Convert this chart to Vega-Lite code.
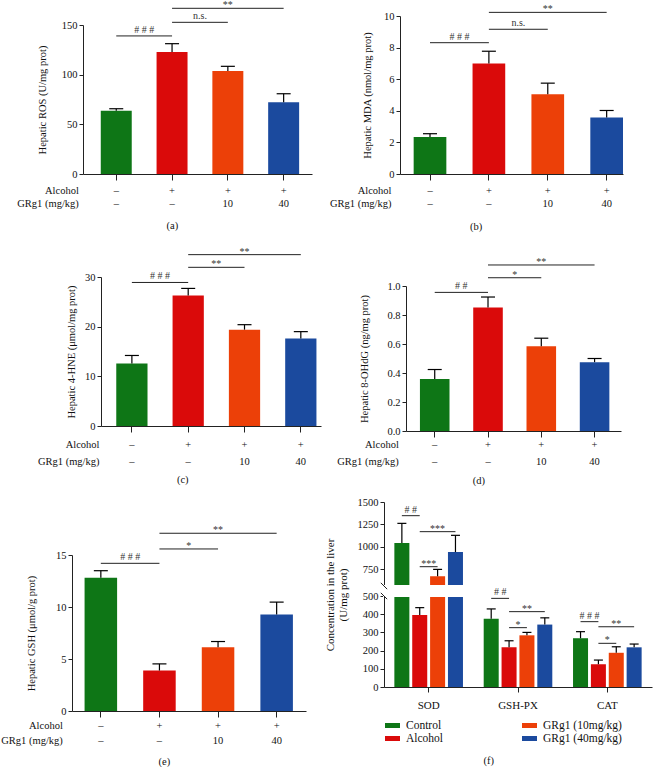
{
  "$schema": "https://vega.github.io/schema/vega-lite/v6.json",
  "padding": 0,
  "datasets": {
    "bars": [
      {"panel": "a", "group": "Control", "value": 63.7, "upper": 65.7},
      {"panel": "a", "group": "Alcohol", "value": 122.8, "upper": 131.2},
      {"panel": "a", "group": "GRg1 (10mg/kg)", "value": 103.7, "upper": 108.4},
      {"panel": "a", "group": "GRg1 (40mg/kg)", "value": 72.2, "upper": 80.8},
      {"panel": "b", "group": "Control", "value": 2.34, "upper": 2.55},
      {"panel": "b", "group": "Alcohol", "value": 6.99, "upper": 7.77},
      {"panel": "b", "group": "GRg1 (10mg/kg)", "value": 5.05, "upper": 5.75},
      {"panel": "b", "group": "GRg1 (40mg/kg)", "value": 3.58, "upper": 4.02},
      {"panel": "c", "group": "Control", "value": 12.6, "upper": 14.2},
      {"panel": "c", "group": "Alcohol", "value": 26.3, "upper": 27.7},
      {"panel": "c", "group": "GRg1 (10mg/kg)", "value": 19.4, "upper": 20.4},
      {"panel": "c", "group": "GRg1 (40mg/kg)", "value": 17.6, "upper": 19.0},
      {"panel": "d", "group": "Control", "value": 0.358, "upper": 0.424},
      {"panel": "d", "group": "Alcohol", "value": 0.851, "upper": 0.924},
      {"panel": "d", "group": "GRg1 (10mg/kg)", "value": 0.585, "upper": 0.64},
      {"panel": "d", "group": "GRg1 (40mg/kg)", "value": 0.475, "upper": 0.5},
      {"panel": "e", "group": "Control", "value": 12.82, "upper": 13.49},
      {"panel": "e", "group": "Alcohol", "value": 3.89, "upper": 4.53},
      {"panel": "e", "group": "GRg1 (10mg/kg)", "value": 6.14, "upper": 6.68},
      {"panel": "e", "group": "GRg1 (40mg/kg)", "value": 9.28, "upper": 10.47}
    ],
    "sig": [
      {"panel": "a", "from": "Control", "to": "Alcohol", "level": 139, "label": "# # #", "span": 1},
      {"panel": "a", "from": "Alcohol", "to": "GRg1 (10mg/kg)", "level": 152.7, "label": "n.s.", "span": 1},
      {"panel": "a", "from": "Alcohol", "to": "GRg1 (40mg/kg)", "level": 166.8, "label": "**", "span": 2},
      {"panel": "b", "from": "Control", "to": "Alcohol", "level": 8.31, "label": "# # #", "span": 1},
      {"panel": "b", "from": "Alcohol", "to": "GRg1 (10mg/kg)", "level": 9.16, "label": "n.s.", "span": 1},
      {"panel": "b", "from": "Alcohol", "to": "GRg1 (40mg/kg)", "level": 10.23, "label": "**", "span": 2},
      {"panel": "c", "from": "Control", "to": "Alcohol", "level": 28.9, "label": "# # #", "span": 1},
      {"panel": "c", "from": "Alcohol", "to": "GRg1 (10mg/kg)", "level": 31.95, "label": "**", "span": 1},
      {"panel": "c", "from": "Alcohol", "to": "GRg1 (40mg/kg)", "level": 34.5, "label": "**", "span": 2},
      {"panel": "d", "from": "Control", "to": "Alcohol", "level": 0.956, "label": "# #", "span": 1},
      {"panel": "d", "from": "Alcohol", "to": "GRg1 (10mg/kg)", "level": 1.057, "label": "*", "span": 1},
      {"panel": "d", "from": "Alcohol", "to": "GRg1 (40mg/kg)", "level": 1.145, "label": "**", "span": 2},
      {"panel": "e", "from": "Control", "to": "Alcohol", "level": 14.2, "label": "# # #", "span": 1},
      {"panel": "e", "from": "Alcohol", "to": "GRg1 (10mg/kg)", "level": 15.58, "label": "*", "span": 1},
      {"panel": "e", "from": "Alcohol", "to": "GRg1 (40mg/kg)", "level": 17.09, "label": "**", "span": 2}
    ],
    "fbars": [
      {"marker": "SOD", "group": "Control", "value": 1041, "upper": 1261},
      {"marker": "SOD", "group": "Alcohol", "value": 396, "upper": 436},
      {"marker": "SOD", "group": "GRg1 (10mg/kg)", "value": 668, "upper": 746},
      {"marker": "SOD", "group": "GRg1 (40mg/kg)", "value": 940, "upper": 1127},
      {"marker": "GSH-PX", "group": "Control", "value": 375, "upper": 429},
      {"marker": "GSH-PX", "group": "Alcohol", "value": 218, "upper": 254},
      {"marker": "GSH-PX", "group": "GRg1 (10mg/kg)", "value": 284, "upper": 300},
      {"marker": "GSH-PX", "group": "GRg1 (40mg/kg)", "value": 343, "upper": 380},
      {"marker": "CAT", "group": "Control", "value": 268, "upper": 304},
      {"marker": "CAT", "group": "Alcohol", "value": 125, "upper": 148},
      {"marker": "CAT", "group": "GRg1 (10mg/kg)", "value": 188, "upper": 221},
      {"marker": "CAT", "group": "GRg1 (40mg/kg)", "value": 218, "upper": 236}
    ],
    "fsig": [
      {"from": "SOD Control", "to": "SOD Alcohol", "level": 1347, "label": "# #", "span": 1},
      {"from": "SOD Alcohol", "to": "SOD 40", "level": 1168, "label": "***", "span": 2},
      {"from": "SOD Alcohol", "to": "SOD 10", "level": 776, "label": "***", "span": 1},
      {"from": "GSH-PX Control", "to": "GSH-PX Alcohol", "level": 487, "label": "# #", "span": 1},
      {"from": "GSH-PX Alcohol", "to": "GSH-PX 40", "level": 414, "label": "**", "span": 2},
      {"from": "GSH-PX Alcohol", "to": "GSH-PX 10", "level": 326, "label": "*", "span": 1},
      {"from": "CAT Control", "to": "CAT Alcohol", "level": 359, "label": "# # #", "span": 1},
      {"from": "CAT Alcohol", "to": "CAT 40", "level": 331, "label": "**", "span": 2},
      {"from": "CAT Alcohol", "to": "CAT 10", "level": 240, "label": "*", "span": 1}
    ]
  },
  "columns": 2,
  "spacing": {"row": 71, "column": 56},
  "bounds": "flush",
  "align": "each",
  "resolve": {"scale": {"color": "independent"}},
  "concat": [
    {
      "width": 256, "height": 158,
      "title": {"text": "(a)", "offset": 12},
      "layer": [
        {"data": {"name": "bars"}, "transform": [{"filter": "datum.panel == 'a'"}],
         "mark": {"type": "bar"},
         "encoding": {
           "x": {"field": "group", "type": "nominal",
                 "scale": {"domain": ["Control", "Alcohol", "GRg1 (10mg/kg)", "GRg1 (40mg/kg)"], "range": [11, 240], "paddingInner": 0.445, "paddingOuter": 0.2745, "align": 0.58},
                 "axis": {"title": ["Alcohol", "GRg1 (mg/kg)"], "titleX": 6.3, "titleY": 11.2, "labelPadding": 5.2, "labelLineHeight": 13.3, "titleLineHeight": 13.3,
                          "labelExpr": "datum.value == 'Control' ? ['–','–'] : datum.value == 'Alcohol' ? ['+','–'] : datum.value == 'GRg1 (10mg/kg)' ? ['+','10'] : ['+','40']"}},
           "y": {"field": "value", "type": "quantitative",
                 "scale": {"domain": [0, 150], "range": [158, 9], "nice": false},
                 "axis": {"title": "Hepatic ROS (U/mg prot)", "values": [0, 50, 100, 150], "tickCount": 20, "format": "d", "offset": -11, "titlePadding": 13.4}},
           "color": {"field": "group", "type": "nominal", "scale": {"domain": ["Control", "Alcohol", "GRg1 (10mg/kg)", "GRg1 (40mg/kg)"], "range": ["#0e7616", "#da0a0a", "#ec4008", "#1b4a9e"]}, "legend": null}
         }},
        {"data": {"name": "bars"}, "transform": [{"filter": "datum.panel == 'a'"}],
         "mark": {"type": "rule", "color": "#000", "strokeWidth": 1.2},
         "encoding": {"x": {"field": "group", "type": "nominal"}, "y": {"field": "value", "type": "quantitative"}, "y2": {"field": "upper"}}},
        {"data": {"name": "bars"}, "transform": [{"filter": "datum.panel == 'a'"}],
         "mark": {"type": "tick", "color": "#000", "size": 14, "thickness": 1.2, "opacity": 1},
         "encoding": {"x": {"field": "group", "type": "nominal"}, "y": {"field": "upper", "type": "quantitative"}}},
        {"data": {"name": "sig"}, "transform": [{"filter": "datum.panel == 'a'"}],
         "mark": {"type": "rule", "color": "#222", "strokeWidth": 1},
         "encoding": {"x": {"field": "from", "type": "nominal"}, "x2": {"field": "to"}, "y": {"field": "level", "type": "quantitative"}}},
        {"data": {"name": "sig"}, "transform": [{"filter": "datum.panel == 'a' && datum.span == 1 && indexof(datum.label, '*') < 0"}],
         "mark": {"type": "text", "baseline": "bottom", "dy": -1, "fontSize": 10, "color": "#333", "font": "Liberation Serif"},
         "encoding": {"x": {"field": "from", "type": "nominal", "bandPosition": 1.401}, "y": {"field": "level", "type": "quantitative"}, "text": {"field": "label"}}},
        {"data": {"name": "sig"}, "transform": [{"filter": "datum.panel == 'a' && datum.span == 1 && indexof(datum.label, '*') >= 0"}],
         "mark": {"type": "text", "baseline": "bottom", "dy": 2, "fontSize": 10, "color": "#333", "font": "Liberation Serif"},
         "encoding": {"x": {"field": "from", "type": "nominal", "bandPosition": 1.401}, "y": {"field": "level", "type": "quantitative"}, "text": {"field": "label"}}},
        {"data": {"name": "sig"}, "transform": [{"filter": "datum.panel == 'a' && datum.span == 2"}],
         "mark": {"type": "text", "baseline": "bottom", "dy": 2, "fontSize": 10, "color": "#333", "font": "Liberation Serif"},
         "encoding": {"x": {"field": "from", "type": "nominal", "bandPosition": 2.302}, "y": {"field": "level", "type": "quantitative"}, "text": {"field": "label"}}}
      ]
    },
    {
      "width": 239, "height": 158,
      "title": {"text": "(b)", "offset": 13},
      "layer": [
        {"data": {"name": "bars"}, "transform": [{"filter": "datum.panel == 'b'"}],
         "mark": {"type": "bar"},
         "encoding": {
           "x": {"field": "group", "type": "nominal",
                 "scale": {"domain": ["Control", "Alcohol", "GRg1 (10mg/kg)", "GRg1 (40mg/kg)"], "range": [16, 239], "paddingInner": 0.445, "paddingOuter": 0.116, "align": 1},
                 "axis": {"title": ["Alcohol", "GRg1 (mg/kg)"], "titleX": 7, "titleY": 11.2, "labelPadding": 5.2, "labelLineHeight": 13.3, "titleLineHeight": 13.3,
                          "labelExpr": "datum.value == 'Control' ? ['–','–'] : datum.value == 'Alcohol' ? ['+','–'] : datum.value == 'GRg1 (10mg/kg)' ? ['+','10'] : ['+','40']"}},
           "y": {"field": "value", "type": "quantitative",
                 "scale": {"domain": [0, 10], "nice": false},
                 "axis": {"title": "Hepatic MDA (nmol/mg prot)", "values": [0, 2, 4, 6, 8, 10], "tickCount": 20, "format": "d", "offset": -16, "titlePadding": 10.6}},
           "color": {"field": "group", "type": "nominal", "scale": {"domain": ["Control", "Alcohol", "GRg1 (10mg/kg)", "GRg1 (40mg/kg)"], "range": ["#0e7616", "#da0a0a", "#ec4008", "#1b4a9e"]}, "legend": null}
         }},
        {"data": {"name": "bars"}, "transform": [{"filter": "datum.panel == 'b'"}],
         "mark": {"type": "rule", "color": "#000", "strokeWidth": 1.2},
         "encoding": {"x": {"field": "group", "type": "nominal"}, "y": {"field": "value", "type": "quantitative"}, "y2": {"field": "upper"}}},
        {"data": {"name": "bars"}, "transform": [{"filter": "datum.panel == 'b'"}],
         "mark": {"type": "tick", "color": "#000", "size": 14, "thickness": 1.2, "opacity": 1},
         "encoding": {"x": {"field": "group", "type": "nominal"}, "y": {"field": "upper", "type": "quantitative"}}},
        {"data": {"name": "sig"}, "transform": [{"filter": "datum.panel == 'b'"}],
         "mark": {"type": "rule", "color": "#222", "strokeWidth": 1},
         "encoding": {"x": {"field": "from", "type": "nominal"}, "x2": {"field": "to"}, "y": {"field": "level", "type": "quantitative"}}},
        {"data": {"name": "sig"}, "transform": [{"filter": "datum.panel == 'b' && datum.span == 1 && indexof(datum.label, '*') < 0"}],
         "mark": {"type": "text", "baseline": "bottom", "dy": -1, "fontSize": 10, "color": "#333", "font": "Liberation Serif"},
         "encoding": {"x": {"field": "from", "type": "nominal", "bandPosition": 1.401}, "y": {"field": "level", "type": "quantitative"}, "text": {"field": "label"}}},
        {"data": {"name": "sig"}, "transform": [{"filter": "datum.panel == 'b' && datum.span == 1 && indexof(datum.label, '*') >= 0"}],
         "mark": {"type": "text", "baseline": "bottom", "dy": 2, "fontSize": 10, "color": "#333", "font": "Liberation Serif"},
         "encoding": {"x": {"field": "from", "type": "nominal", "bandPosition": 1.401}, "y": {"field": "level", "type": "quantitative"}, "text": {"field": "label"}}},
        {"data": {"name": "sig"}, "transform": [{"filter": "datum.panel == 'b' && datum.span == 2"}],
         "mark": {"type": "text", "baseline": "bottom", "dy": 2, "fontSize": 10, "color": "#333", "font": "Liberation Serif"},
         "encoding": {"x": {"field": "from", "type": "nominal", "bandPosition": 2.302}, "y": {"field": "level", "type": "quantitative"}, "text": {"field": "label"}}}
      ]
    },
    {
      "width": 256, "height": 181,
      "title": {"text": "(c)", "offset": 8},
      "layer": [
        {"data": {"name": "bars"}, "transform": [{"filter": "datum.panel == 'c'"}],
         "mark": {"type": "bar"},
         "encoding": {
           "x": {"field": "group", "type": "nominal",
                 "scale": {"domain": ["Control", "Alcohol", "GRg1 (10mg/kg)", "GRg1 (40mg/kg)"], "range": [29, 249], "paddingInner": 0.445, "paddingOuter": 0.176, "align": 0.77},
                 "axis": {"title": ["Alcohol", "GRg1 (mg/kg)"], "titleX": 27, "titleY": 13.5, "labelPadding": 7.5, "labelLineHeight": 16.7, "titleLineHeight": 16.7,
                          "labelExpr": "datum.value == 'Control' ? ['–','–'] : datum.value == 'Alcohol' ? ['+','–'] : datum.value == 'GRg1 (10mg/kg)' ? ['+','10'] : ['+','40']"}},
           "y": {"field": "value", "type": "quantitative",
                 "scale": {"domain": [0, 30], "range": [181, 32], "nice": false},
                 "axis": {"title": "Hepatic 4-HNE (μmol/mg prot)", "values": [0, 10, 20, 30], "tickCount": 20, "format": "d", "offset": -29, "titlePadding": 7.6}},
           "color": {"field": "group", "type": "nominal", "scale": {"domain": ["Control", "Alcohol", "GRg1 (10mg/kg)", "GRg1 (40mg/kg)"], "range": ["#0e7616", "#da0a0a", "#ec4008", "#1b4a9e"]}, "legend": null}
         }},
        {"data": {"name": "bars"}, "transform": [{"filter": "datum.panel == 'c'"}],
         "mark": {"type": "rule", "color": "#000", "strokeWidth": 1.2},
         "encoding": {"x": {"field": "group", "type": "nominal"}, "y": {"field": "value", "type": "quantitative"}, "y2": {"field": "upper"}}},
        {"data": {"name": "bars"}, "transform": [{"filter": "datum.panel == 'c'"}],
         "mark": {"type": "tick", "color": "#000", "size": 14, "thickness": 1.2, "opacity": 1},
         "encoding": {"x": {"field": "group", "type": "nominal"}, "y": {"field": "upper", "type": "quantitative"}}},
        {"data": {"name": "sig"}, "transform": [{"filter": "datum.panel == 'c'"}],
         "mark": {"type": "rule", "color": "#222", "strokeWidth": 1},
         "encoding": {"x": {"field": "from", "type": "nominal"}, "x2": {"field": "to"}, "y": {"field": "level", "type": "quantitative"}}},
        {"data": {"name": "sig"}, "transform": [{"filter": "datum.panel == 'c' && datum.span == 1 && indexof(datum.label, '*') < 0"}],
         "mark": {"type": "text", "baseline": "bottom", "dy": -1, "fontSize": 10, "color": "#333", "font": "Liberation Serif"},
         "encoding": {"x": {"field": "from", "type": "nominal", "bandPosition": 1.401}, "y": {"field": "level", "type": "quantitative"}, "text": {"field": "label"}}},
        {"data": {"name": "sig"}, "transform": [{"filter": "datum.panel == 'c' && datum.span == 1 && indexof(datum.label, '*') >= 0"}],
         "mark": {"type": "text", "baseline": "bottom", "dy": 2, "fontSize": 10, "color": "#333", "font": "Liberation Serif"},
         "encoding": {"x": {"field": "from", "type": "nominal", "bandPosition": 1.401}, "y": {"field": "level", "type": "quantitative"}, "text": {"field": "label"}}},
        {"data": {"name": "sig"}, "transform": [{"filter": "datum.panel == 'c' && datum.span == 2"}],
         "mark": {"type": "text", "baseline": "bottom", "dy": 2, "fontSize": 10, "color": "#333", "font": "Liberation Serif"},
         "encoding": {"x": {"field": "from", "type": "nominal", "bandPosition": 2.302}, "y": {"field": "level", "type": "quantitative"}, "text": {"field": "label"}}}
      ]
    },
    {
      "width": 237, "height": 186,
      "title": {"text": "(d)", "offset": 9},
      "layer": [
        {"data": {"name": "bars"}, "transform": [{"filter": "datum.panel == 'd'"}],
         "mark": {"type": "bar"},
         "encoding": {
           "x": {"field": "group", "type": "nominal",
                 "scale": {"domain": ["Control", "Alcohol", "GRg1 (10mg/kg)", "GRg1 (40mg/kg)"], "range": [22, 237], "paddingInner": 0.445, "paddingOuter": 0.24, "align": 0.545},
                 "axis": {"title": ["Alcohol", "GRg1 (mg/kg)"], "titleX": 14.3, "titleY": 8.5, "labelPadding": 2.5, "labelLineHeight": 16.7, "titleLineHeight": 16.7,
                          "labelExpr": "datum.value == 'Control' ? ['–','–'] : datum.value == 'Alcohol' ? ['+','–'] : datum.value == 'GRg1 (10mg/kg)' ? ['+','10'] : ['+','40']"}},
           "y": {"field": "value", "type": "quantitative",
                 "scale": {"domain": [0, 1], "range": [186, 41], "nice": false},
                 "axis": {"title": "Hepatic 8-OHdG (ng/mg prot)", "values": [0, 0.2, 0.4, 0.6, 0.8, 1.0], "tickCount": 20, "format": ".1f", "offset": -22, "titlePadding": 17}},
           "color": {"field": "group", "type": "nominal", "scale": {"domain": ["Control", "Alcohol", "GRg1 (10mg/kg)", "GRg1 (40mg/kg)"], "range": ["#0e7616", "#da0a0a", "#ec4008", "#1b4a9e"]}, "legend": null}
         }},
        {"data": {"name": "bars"}, "transform": [{"filter": "datum.panel == 'd'"}],
         "mark": {"type": "rule", "color": "#000", "strokeWidth": 1.2},
         "encoding": {"x": {"field": "group", "type": "nominal"}, "y": {"field": "value", "type": "quantitative"}, "y2": {"field": "upper"}}},
        {"data": {"name": "bars"}, "transform": [{"filter": "datum.panel == 'd'"}],
         "mark": {"type": "tick", "color": "#000", "size": 14, "thickness": 1.2, "opacity": 1},
         "encoding": {"x": {"field": "group", "type": "nominal"}, "y": {"field": "upper", "type": "quantitative"}}},
        {"data": {"name": "sig"}, "transform": [{"filter": "datum.panel == 'd'"}],
         "mark": {"type": "rule", "color": "#222", "strokeWidth": 1},
         "encoding": {"x": {"field": "from", "type": "nominal"}, "x2": {"field": "to"}, "y": {"field": "level", "type": "quantitative"}}},
        {"data": {"name": "sig"}, "transform": [{"filter": "datum.panel == 'd' && datum.span == 1 && indexof(datum.label, '*') < 0"}],
         "mark": {"type": "text", "baseline": "bottom", "dy": -1, "fontSize": 10, "color": "#333", "font": "Liberation Serif"},
         "encoding": {"x": {"field": "from", "type": "nominal", "bandPosition": 1.401}, "y": {"field": "level", "type": "quantitative"}, "text": {"field": "label"}}},
        {"data": {"name": "sig"}, "transform": [{"filter": "datum.panel == 'd' && datum.span == 1 && indexof(datum.label, '*') >= 0"}],
         "mark": {"type": "text", "baseline": "bottom", "dy": 2, "fontSize": 10, "color": "#333", "font": "Liberation Serif"},
         "encoding": {"x": {"field": "from", "type": "nominal", "bandPosition": 1.401}, "y": {"field": "level", "type": "quantitative"}, "text": {"field": "label"}}},
        {"data": {"name": "sig"}, "transform": [{"filter": "datum.panel == 'd' && datum.span == 2"}],
         "mark": {"type": "text", "baseline": "bottom", "dy": 2, "fontSize": 10, "color": "#333", "font": "Liberation Serif"},
         "encoding": {"x": {"field": "from", "type": "nominal", "bandPosition": 2.302}, "y": {"field": "level", "type": "quantitative"}, "text": {"field": "label"}}}
      ]
    },
    {
      "width": 256, "height": 209,
      "title": {"text": "(e)", "offset": 11},
      "layer": [
        {"data": {"name": "bars"}, "transform": [{"filter": "datum.panel == 'e'"}],
         "mark": {"type": "bar"},
         "encoding": {
           "x": {"field": "group", "type": "nominal",
                 "scale": {"domain": ["Control", "Alcohol", "GRg1 (10mg/kg)", "GRg1 (40mg/kg)"], "range": [0, 234], "paddingInner": 0.445, "paddingOuter": 0.219, "align": 0.49},
                 "axis": {"title": ["Alcohol", "GRg1 (mg/kg)"], "titleX": -9.7, "titleY": 9.2, "labelPadding": 3.2, "labelLineHeight": 15, "titleLineHeight": 15,
                          "labelExpr": "datum.value == 'Control' ? ['–','–'] : datum.value == 'Alcohol' ? ['+','–'] : datum.value == 'GRg1 (10mg/kg)' ? ['+','10'] : ['+','40']"}},
           "y": {"field": "value", "type": "quantitative",
                 "scale": {"domain": [0, 15], "range": [209, 53], "nice": false},
                 "axis": {"title": "Hepatic GSH (μmol/g prot)", "values": [0, 5, 10, 15], "tickCount": 20, "format": "d", "titlePadding": 18.6}},
           "color": {"field": "group", "type": "nominal", "scale": {"domain": ["Control", "Alcohol", "GRg1 (10mg/kg)", "GRg1 (40mg/kg)"], "range": ["#0e7616", "#da0a0a", "#ec4008", "#1b4a9e"]}, "legend": null}
         }},
        {"data": {"name": "bars"}, "transform": [{"filter": "datum.panel == 'e'"}],
         "mark": {"type": "rule", "color": "#000", "strokeWidth": 1.2},
         "encoding": {"x": {"field": "group", "type": "nominal"}, "y": {"field": "value", "type": "quantitative"}, "y2": {"field": "upper"}}},
        {"data": {"name": "bars"}, "transform": [{"filter": "datum.panel == 'e'"}],
         "mark": {"type": "tick", "color": "#000", "size": 14, "thickness": 1.2, "opacity": 1},
         "encoding": {"x": {"field": "group", "type": "nominal"}, "y": {"field": "upper", "type": "quantitative"}}},
        {"data": {"name": "sig"}, "transform": [{"filter": "datum.panel == 'e'"}],
         "mark": {"type": "rule", "color": "#222", "strokeWidth": 1},
         "encoding": {"x": {"field": "from", "type": "nominal"}, "x2": {"field": "to"}, "y": {"field": "level", "type": "quantitative"}}},
        {"data": {"name": "sig"}, "transform": [{"filter": "datum.panel == 'e' && datum.span == 1 && indexof(datum.label, '*') < 0"}],
         "mark": {"type": "text", "baseline": "bottom", "dy": -1, "fontSize": 10, "color": "#333", "font": "Liberation Serif"},
         "encoding": {"x": {"field": "from", "type": "nominal", "bandPosition": 1.401}, "y": {"field": "level", "type": "quantitative"}, "text": {"field": "label"}}},
        {"data": {"name": "sig"}, "transform": [{"filter": "datum.panel == 'e' && datum.span == 1 && indexof(datum.label, '*') >= 0"}],
         "mark": {"type": "text", "baseline": "bottom", "dy": 2, "fontSize": 10, "color": "#333", "font": "Liberation Serif"},
         "encoding": {"x": {"field": "from", "type": "nominal", "bandPosition": 1.401}, "y": {"field": "level", "type": "quantitative"}, "text": {"field": "label"}}},
        {"data": {"name": "sig"}, "transform": [{"filter": "datum.panel == 'e' && datum.span == 2"}],
         "mark": {"type": "text", "baseline": "bottom", "dy": 2, "fontSize": 10, "color": "#333", "font": "Liberation Serif"},
         "encoding": {"x": {"field": "from", "type": "nominal", "bandPosition": 2.302}, "y": {"field": "level", "type": "quantitative"}, "text": {"field": "label"}}}
      ]
    },
    {
      "width": 268, "height": 185,
      "title": {"text": "(f)", "offset": 12},
      "resolve": {"scale": {"x": "independent"}},
      "layer": [
        {
          "layer": [
            {"data": {"name": "fbars"},
             "mark": {"type": "bar"},
             "encoding": {
               "x": {"field": "marker", "type": "nominal",
                     "scale": {"domain": ["SOD", "GSH-PX", "CAT"], "paddingInner": 0, "paddingOuter": 0},
                     "axis": {"title": null, "labelFontSize": 11, "tickSize": 5, "labelPadding": 7.3}},
               "xOffset": {"field": "group", "type": "nominal",
                           "scale": {"domain": ["Control", "Alcohol", "GRg1 (10mg/kg)", "GRg1 (40mg/kg)"], "paddingInner": 0.16, "paddingOuter": 0.58}},
               "y": {"field": "value", "type": "quantitative",
                     "scale": {"domain": [0, 500, 560, 1500], "range": [185, 94, 84, 0], "nice": false, "zero": false},
                     "axis": {"title": ["Concentration in the liver", "(U/mg prot)"], "values": [0, 100, 200, 300, 400, 500, 750, 1000, 1250, 1500], "tickCount": 40, "format": "d", "titlePadding": 9, "titleFontSize": 11, "titleLineHeight": 12.5}},
               "color": {"field": "group", "type": "nominal",
                         "scale": {"domain": ["Control", "Alcohol", "GRg1 (10mg/kg)", "GRg1 (40mg/kg)"], "range": ["#0e7616", "#da0a0a", "#ec4008", "#1b4a9e"]},
                         "legend": {"title": null, "orient": "none", "legendX": 1, "legendY": 216, "columns": 2, "columnPadding": 78, "rowPadding": 0,
                                    "symbolType": "M-1,-0.33H1V0.33H-1Z", "symbolSize": 225, "symbolStrokeWidth": 0,
                                    "labelFont": "Liberation Serif", "labelFontSize": 11.5, "labelColor": "#111", "labelOffset": 6, "padding": 0}}
             }},
            {"data": {"name": "fbars"},
             "mark": {"type": "rule", "color": "#000", "strokeWidth": 1.2},
             "encoding": {"x": {"field": "marker", "type": "nominal"}, "xOffset": {"field": "group", "type": "nominal"}, "y": {"field": "value", "type": "quantitative"}, "y2": {"field": "upper"}}},
            {"data": {"name": "fbars"},
             "mark": {"type": "tick", "color": "#000", "size": 9, "thickness": 1.2, "opacity": 1},
             "encoding": {"x": {"field": "marker", "type": "nominal"}, "xOffset": {"field": "group", "type": "nominal"}, "y": {"field": "upper", "type": "quantitative"}}},
            {"data": {"values": [{"lo": 500, "hi": 560}]},
             "mark": {"type": "rect", "fill": "white", "stroke": "white", "strokeWidth": 2},
             "encoding": {"y": {"field": "lo", "type": "quantitative"}, "y2": {"field": "hi"}}},
            {"data": {"values": [{"marker": "SOD", "at": 560}, {"marker": "SOD", "at": 500}]},
             "mark": {"type": "point", "shape": "M-1,-1L1,1", "size": 40, "filled": false, "color": "#222", "strokeWidth": 1, "opacity": 1},
             "encoding": {"x": {"field": "marker", "type": "nominal", "bandPosition": 0}, "y": {"field": "at", "type": "quantitative"}}}
          ]
        },
        {
          "data": {"name": "fsig"},
          "layer": [
            {"mark": {"type": "rule", "color": "#222", "strokeWidth": 1},
             "encoding": {
               "x": {"field": "from", "type": "nominal",
                     "scale": {"type": "band", "domain": ["SOD Control", "SOD Alcohol", "SOD 10", "SOD 40", "gap 1", "GSH-PX Control", "GSH-PX Alcohol", "GSH-PX 10", "GSH-PX 40", "gap 2", "CAT Control", "CAT Alcohol", "CAT 10", "CAT 40"], "paddingInner": 0.16, "paddingOuter": 0.58},
                     "axis": null},
               "x2": {"field": "to"},
               "y": {"field": "level", "type": "quantitative"}}},
            {"transform": [{"filter": "datum.span == 1 && indexof(datum.label, '*') < 0"}],
             "mark": {"type": "text", "baseline": "bottom", "dy": -1, "fontSize": 10, "color": "#333", "font": "Liberation Serif"},
             "encoding": {"x": {"field": "from", "type": "nominal", "bandPosition": 1.095}, "y": {"field": "level", "type": "quantitative"}, "text": {"field": "label"}}},
            {"transform": [{"filter": "datum.span == 1 && indexof(datum.label, '*') >= 0"}],
             "mark": {"type": "text", "baseline": "bottom", "dy": 2, "fontSize": 10, "color": "#333", "font": "Liberation Serif"},
             "encoding": {"x": {"field": "from", "type": "nominal", "bandPosition": 1.095}, "y": {"field": "level", "type": "quantitative"}, "text": {"field": "label"}}},
            {"transform": [{"filter": "datum.span == 2"}],
             "mark": {"type": "text", "baseline": "bottom", "dy": 2, "fontSize": 10, "color": "#333", "font": "Liberation Serif"},
             "encoding": {"x": {"field": "from", "type": "nominal", "bandPosition": 1.69}, "y": {"field": "level", "type": "quantitative"}, "text": {"field": "label"}}}
          ]
        }
      ]
    }
  ],
  "config": {
    "font": "Liberation Serif",
    "view": {"stroke": null},
    "axis": {"labelFont": "Liberation Serif", "titleFont": "Liberation Serif", "labelFontSize": 10.5, "titleFontSize": 10.5,
             "labelColor": "#111", "titleColor": "#111", "titleFontWeight": "normal", "domainColor": "#222", "tickColor": "#222",
             "domainWidth": 1, "tickWidth": 1, "grid": false, "labelOverlap": false},
    "axisY": {"tickSize": 4, "labelPadding": 2},
    "axisX": {"tickSize": 6, "labelAngle": 0, "labelBaseline": "top", "titleAngle": 0, "titleAlign": "right", "titleBaseline": "top"},
    "title": {"orient": "bottom", "frame": "bounds", "anchor": "middle", "font": "Liberation Serif", "fontSize": 10.5, "fontWeight": "normal", "color": "#111"}
  }
}
